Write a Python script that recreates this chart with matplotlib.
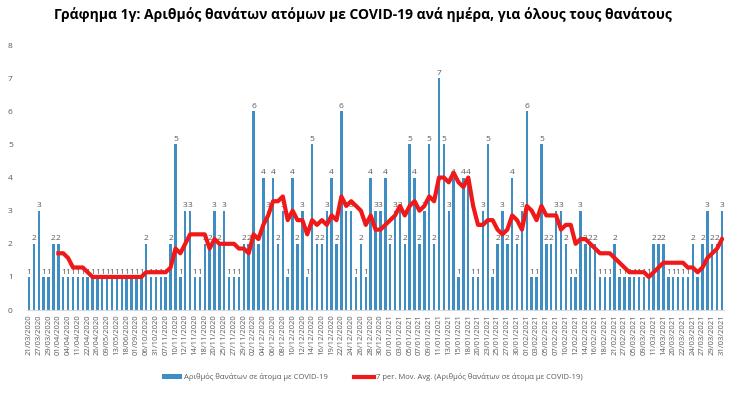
import numpy as np
import pandas as pd
import matplotlib
matplotlib.use('Agg')
import matplotlib.pyplot as plt

plt.rcParams['font.family'] = ['Open Sans', 'DejaVu Sans']

# Daily deaths (one bar per day with deaths)
deaths = [1, 2, 3, 1, 1, 2, 2,
          1, 1, 1, 1, 1, 1, 1, 1, 1, 1, 1, 1, 1, 1, 1, 1, 1,
          2, 1, 1, 1, 1, 2, 5, 1, 3, 3, 1, 1, 2, 2, 3, 2, 3,
          1, 1, 1, 2, 2, 6, 2, 4, 3, 4, 2, 3, 1, 4, 2, 3, 1, 5,
          2, 2, 3, 4, 2, 6, 3, 3, 1, 2, 1, 4, 3, 3, 4, 2, 3, 3,
          2, 5, 4, 2, 3, 5, 2, 7, 5, 3, 4, 1, 4, 4, 1, 1, 3, 5,
          1, 2, 3, 2, 4, 2, 3, 6, 1, 1, 5, 2, 2, 3, 3, 2, 1, 1,
          3, 2, 2, 2, 1, 1, 1, 2, 1, 1, 1, 1, 1, 1, 1, 2, 2, 2,
          1, 1, 1, 1, 1, 2, 1, 2, 3, 2, 2, 3]

# labels shown under every other bar
tick_labels = ['21/03/2020', '27/03/2020', '29/03/2020', '01/04/2020', '04/04/2020',
               '11/04/2020', '22/04/2020', '26/04/2020', '09/05/2020', '13/05/2020',
               '18/06/2020', '01/09/2020', '06/10/2020', '31/10/2020', '07/11/2020',
               '10/11/2020', '12/11/2020', '14/11/2020', '18/11/2020', '20/11/2020',
               '25/11/2020', '27/11/2020', '29/11/2020', '02/12/2020', '04/12/2020',
               '06/12/2020', '08/12/2020', '10/12/2020', '12/12/2020', '14/12/2020',
               '16/12/2020', '19/12/2020', '22/12/2020', '24/12/2020', '26/12/2020',
               '28/12/2020', '30/12/2020', '01/01/2021', '03/01/2021', '05/01/2021',
               '07/01/2021', '09/01/2021', '11/01/2021', '13/01/2021', '15/01/2021',
               '18/01/2021', '20/01/2021', '23/01/2021', '25/01/2021', '27/01/2021',
               '30/01/2021', '01/02/2021', '03/02/2021', '05/02/2021', '07/02/2021',
               '10/02/2021', '12/02/2021', '14/02/2021', '16/02/2021', '18/02/2021',
               '21/02/2021', '27/02/2021', '05/03/2021', '09/03/2021', '11/03/2021',
               '14/03/2021', '20/03/2021', '22/03/2021', '24/03/2021', '27/03/2021',
               '29/03/2021', '31/03/2021']

bar_label = 'Αριθμός θανάτων σε άτομα με COVID-19'
ma_label = '7 per. Mov. Avg. (Αριθμός θανάτων σε άτομα με COVID-19)'
title = 'Γράφημα 1γ: Αριθμός θανάτων ατόμων με COVID-19 ανά ημέρα, για όλους τους θανάτους'

bar_color = '#3E8EC4'
line_color = '#F01818'
txt_color = '#595959'

x = np.arange(len(deaths))
ma = pd.Series(deaths).rolling(7).mean()

fig = plt.figure(figsize=(7.4, 3.95), dpi=100)
ax = fig.add_axes([0.036, 0.215, 0.943, 0.671])

bars = ax.bar(x, deaths, width=0.5, color=bar_color, label=bar_label, zorder=2)
ax.bar_label(bars, fontsize=6, color=txt_color, padding=1)
line, = ax.plot(x, ma, color=line_color, lw=3, label=ma_label, zorder=4,
                solid_joinstyle='round')

ax.set_xlim(-0.5, len(deaths) - 0.5)
ax.set_ylim(0, 8)
ax.set_yticks(range(9))
ax.set_xticks(x[::2])
ax.set_xticklabels(tick_labels, rotation=90, fontsize=5.5, color=txt_color)
ax.tick_params(axis='y', labelsize=6, labelcolor=txt_color, length=0, pad=10)
ax.tick_params(axis='x', length=0, pad=3)
for s in ['top', 'right', 'left']:
    ax.spines[s].set_visible(False)
ax.spines['bottom'].set_color('#D9D9D9')

fig.text(0.49, 0.962, title, ha='center', va='center', fontsize=10, fontweight='bold')
fig.legend(handles=[bars, line], loc='center', bbox_to_anchor=(0.503, 0.045), ncol=2,
           frameon=False, fontsize=5.5, labelcolor=txt_color, handlelength=2.6,
           columnspacing=3.5, handletextpad=0.2)

fig.savefig('out.png', dpi=100)
